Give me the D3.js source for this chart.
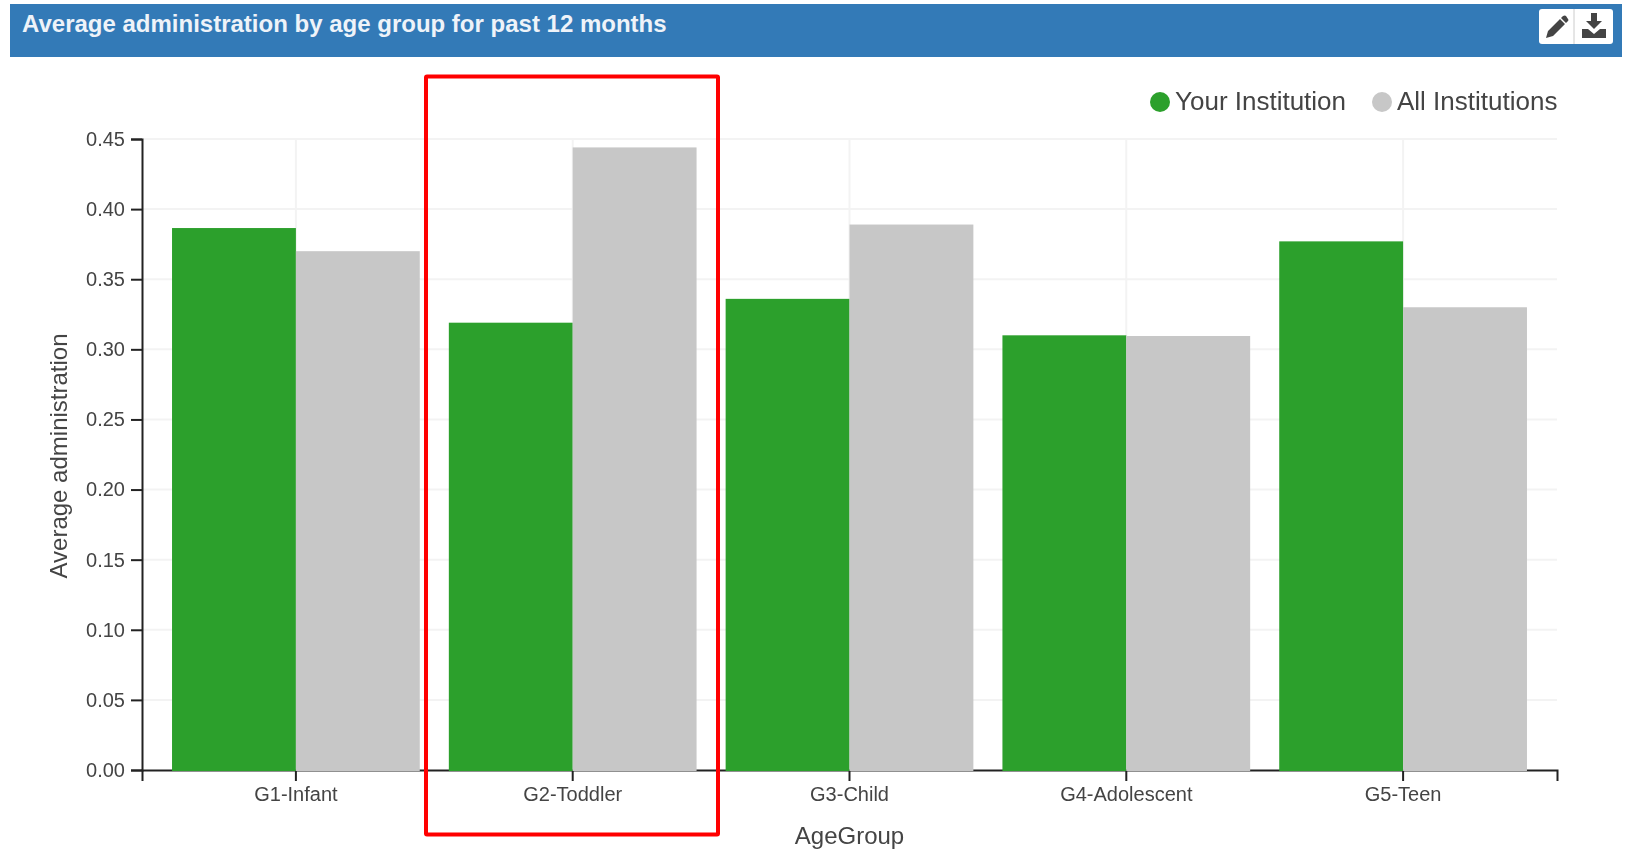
<!DOCTYPE html>
<html>
<head>
<meta charset="utf-8">
<script src="https://cdn.jsdelivr.net/npm/d3@7"></script>
<style>
    html, body { margin: 0; padding: 0; background: #fff; overflow: hidden; }
    text { font-family: "Liberation Sans", Arial, sans-serif; }
    svg { filter: blur(0.45px); }
</style>
</head>
<body>
<div id="chart"></div>
<script>
// values
const ageGroups = ["G1-Infant", "G2-Toddler", "G3-Child", "G4-Adolescent", "G5-Teen"];
const seriesNames = ["Your Institution", "All Institutions"];
const yourInstitution = [0.3865, 0.319, 0.336, 0.310, 0.377];
const allInstitutions = [0.370, 0.444, 0.389, 0.3095, 0.330];
const yTicks = [0, 0.05, 0.10, 0.15, 0.20, 0.25, 0.30, 0.35, 0.40, 0.45];
const titleText = "Average administration by age group for past 12 months";

const width = 1627;
const height = 850;
const margin = { top: 139, right: 70, bottom: 80, left: 142 };
const colors = ["#2ca02c", "#c7c7c7"];

const svg = d3.select("#chart")
    .append("svg")
    .attr("width", width)
    .attr("height", height)
    .style("display", "block");

// header bar
svg.append("rect")
    .attr("x", 10).attr("y", 4)
    .attr("width", 1612).attr("height", 53)
    .attr("fill", "#337ab7");
svg.append("text")
    .attr("x", 22).attr("y", 32)
    .attr("font-size", 24)
    .attr("font-weight", "bold")
    .attr("fill", "#eef3f9")
    .text(titleText);

// header buttons
const buttons = svg.append("g");
buttons.append("rect")
    .attr("x", 1539).attr("y", 9)
    .attr("width", 74).attr("height", 35).attr("rx", 3)
    .attr("fill", "#fff");
buttons.append("line")
    .attr("x1", 1574).attr("x2", 1574).attr("y1", 9).attr("y2", 44)
    .attr("stroke", "#ccc");
buttons.append("path")
    .attr("transform", "translate(1546,15)")
    .attr("d", "M0 23 L2 16 L14 4 L19 9 L7 21 Z M15 3 L17 1 Q19 0 20 1 L22 4 Q23 5 22 6 L20 8 Z")
    .attr("fill", "#444");
buttons.append("path")
    .attr("transform", "translate(1582,13)")
    .attr("d", "M9 0 H15 V8 H20 L12 16 L4 8 H9 Z M0 16 H6 L12 21 L18 16 H24 V25 H0 Z")
    .attr("fill", "#444");

const x0 = d3.scaleBand()
    .domain(ageGroups)
    .range([margin.left, width - margin.right])
    .paddingInner(0.105)
    .paddingOuter(0.1085);

const x1 = d3.scaleBand()
    .domain(seriesNames)
    .range([0, x0.bandwidth()]);

const y = d3.scaleLinear()
    .domain([0, 0.45])
    .range([height - margin.bottom, margin.top]);

// grid
const grid = svg.append("g").attr("stroke", "#f3f3f3").attr("stroke-width", 2);
grid.selectAll(".h")
    .data(yTicks.slice(1))
    .enter()
    .append("line")
    .attr("x1", margin.left).attr("x2", width - margin.right)
    .attr("y1", d => y(d)).attr("y2", d => y(d));
grid.selectAll(".v")
    .data(ageGroups)
    .enter()
    .append("line")
    .attr("x1", d => x0(d) + x0.bandwidth() / 2)
    .attr("x2", d => x0(d) + x0.bandwidth() / 2)
    .attr("y1", y(0.45)).attr("y2", y(0));

// axes
const xAxis = svg.append("g")
    .attr("transform", "translate(0," + y(0) + ")")
    .call(d3.axisBottom(x0).tickSize(11));
const yAxis = svg.append("g")
    .attr("transform", "translate(" + margin.left + ",0)")
    .call(d3.axisLeft(y).tickValues(yTicks).tickFormat(d3.format(".2f")).tickSize(11));

[xAxis, yAxis].forEach(a => {
    a.attr("font-family", null).attr("font-size", null);
    a.selectAll("path, line").attr("stroke", "#222").attr("stroke-width", 2);
    a.selectAll("text").attr("font-size", 20).attr("fill", "#444");
});
xAxis.selectAll("text").attr("dy", "0.84em");
yAxis.selectAll("text").attr("dx", "-3px");

// bars
const seriesValues = [yourInstitution, allInstitutions];
seriesNames.forEach((name, s) => {
    svg.append("g")
        .selectAll("rect")
        .data(ageGroups)
        .enter()
        .append("rect")
        .attr("x", d => x0(d) + x1(name))
        .attr("y", (d, i) => y(seriesValues[s][i]))
        .attr("width", x1.bandwidth())
        .attr("height", (d, i) => y(0) - y(seriesValues[s][i]) + 1)
        .attr("fill", colors[s]);
});

// axis titles
svg.append("text")
    .attr("x", (margin.left + width - margin.right) / 2)
    .attr("y", 844)
    .attr("text-anchor", "middle")
    .attr("font-size", 24)
    .attr("fill", "#444")
    .text("AgeGroup");
svg.append("text")
    .attr("transform", "translate(67,456) rotate(-90)")
    .attr("text-anchor", "middle")
    .attr("font-size", 24)
    .attr("fill", "#444")
    .text("Average administration");

// legend
const legendX = [1160, 1382];
seriesNames.forEach((name, s) => {
    svg.append("circle")
        .attr("cx", legendX[s]).attr("cy", 102).attr("r", 10)
        .attr("fill", colors[s]);
    svg.append("text")
        .attr("x", legendX[s] + 15).attr("y", 110)
        .attr("font-size", 26)
        .attr("fill", "#444")
        .text(name);
});

// red highlight round G2-Toddler
svg.append("rect")
    .attr("x", 426).attr("y", 76.5)
    .attr("width", 292).attr("height", 758)
    .attr("rx", 1)
    .attr("fill", "none")
    .attr("stroke", "#ff0000")
    .attr("stroke-width", 4);
</script>
</body>
</html>
